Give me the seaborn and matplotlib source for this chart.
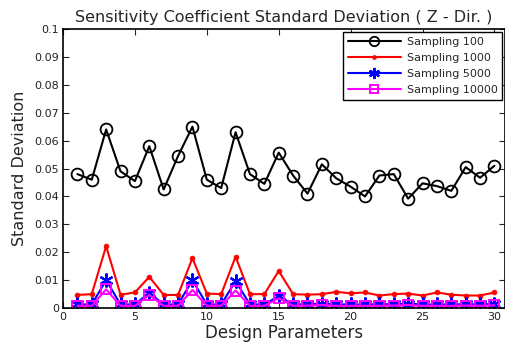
import numpy as np
import pandas as pd
import seaborn as sns
import matplotlib
matplotlib.use("Agg")
import matplotlib.pyplot as plt

params = list(range(1, 31))
s100 = [0.048, 0.046, 0.064, 0.049, 0.0455, 0.058, 0.0425, 0.0545, 0.065, 0.046,
        0.043, 0.063, 0.048, 0.0445, 0.0557, 0.0475, 0.041, 0.0515, 0.0465, 0.0435,
        0.040, 0.0475, 0.048, 0.0392, 0.0447, 0.0437, 0.042, 0.0505, 0.0467, 0.051]
s1000 = [0.0047, 0.005, 0.0222, 0.0048, 0.0056, 0.0112, 0.0047, 0.0047, 0.0179, 0.0052,
         0.005, 0.0184, 0.005, 0.005, 0.0133, 0.005, 0.0048, 0.005, 0.0058, 0.0053,
         0.0056, 0.0045, 0.005, 0.0052, 0.0045, 0.0056, 0.0048, 0.0045, 0.0045, 0.0056]
s5000 = [0.0013, 0.0013, 0.0100, 0.0013, 0.0013, 0.0055, 0.0013, 0.0013, 0.0100, 0.0013,
         0.0013, 0.0097, 0.0013, 0.0013, 0.0043, 0.0013, 0.0014, 0.0016, 0.0013, 0.0013,
         0.0013, 0.0014, 0.0014, 0.0016, 0.0013, 0.0013, 0.0013, 0.0014, 0.0013, 0.0015]
s10000 = [0.0008, 0.0008, 0.0067, 0.0008, 0.0008, 0.0047, 0.0008, 0.0008, 0.0065, 0.0008,
          0.0008, 0.0063, 0.0008, 0.0008, 0.0035, 0.0008, 0.0009, 0.0011, 0.0008, 0.0008,
          0.0008, 0.0008, 0.0009, 0.0011, 0.0008, 0.0008, 0.0008, 0.0009, 0.0008, 0.0010]
labels = ["Sampling 100", "Sampling 1000", "Sampling 5000", "Sampling 10000"]
xticks = [0, 5, 10, 15, 20, 25, 30]
yticks = [0, 0.01, 0.02, 0.03, 0.04, 0.05, 0.06, 0.07, 0.08, 0.09, 0.1]
yticklabels = ["0", "0.01", "0.02", "0.03", "0.04", "0.05", "0.06", "0.07", "0.08", "0.09", "0.1"]

sns.set_style("ticks")
plt.rcParams['font.family'] = ['DejaVu Sans']

fig = plt.figure(figsize=(5.06, 3.45), dpi=100)
ax = fig.add_axes([0.1245, 0.107, 0.874, 0.809])

styles = [
    dict(color="black", marker="o", markersize=8.5, markerfacecolor="none",
         markeredgecolor="black", markeredgewidth=1.3),
    dict(color="red", marker="o", markersize=3.5, markerfacecolor="red",
         markeredgecolor="red", markeredgewidth=0.5),
    dict(color="blue", marker=(6, 2, 0), markersize=10, markeredgecolor="blue",
         markeredgewidth=1.6),
    dict(color="magenta", marker="s", markersize=6.5, markerfacecolor="none",
         markeredgecolor="magenta", markeredgewidth=1.4),
]
for vals, lab, st in zip([s100, s1000, s5000, s10000], labels, styles):
    df = pd.DataFrame({"x": params, "y": vals})
    sns.lineplot(data=df, x="x", y="y", ax=ax, label=lab, linewidth=1.5,
                 linestyle="-", **st)

ax.set_xlim(0, 30.75)
ax.set_ylim(0, 0.1)
ax.set_xticks(xticks)
ax.set_xticklabels([str(t) for t in xticks], fontsize=8, color="#222222")
ax.set_yticks(yticks)
ax.set_yticklabels(yticklabels, fontsize=8, color="#222222")
ax.tick_params(direction="in", top=True, right=True, length=4, width=0.8, pad=3)
for sp in ax.spines.values():
    sp.set_linewidth(1.2)
    sp.set_color("black")
    sp.set_visible(True)

ax.set_xlabel("Design Parameters", fontsize=12, labelpad=1)
ax.set_ylabel("Standard Deviation", fontsize=11.5, labelpad=5)
ax.set_title("Sensitivity Coefficient Standard Deviation ( Z - Dir. )", fontsize=11.5, pad=5)

leg = ax.legend(loc="upper right", fontsize=8, frameon=True, fancybox=False,
                edgecolor="black", framealpha=1, borderpad=0.4, labelspacing=0.55,
                handlelength=4.8, handletextpad=0.5, borderaxespad=0.3, markerscale=0.8)
leg.get_frame().set_linewidth(1.0)

fig.savefig("out.png", dpi=100)
